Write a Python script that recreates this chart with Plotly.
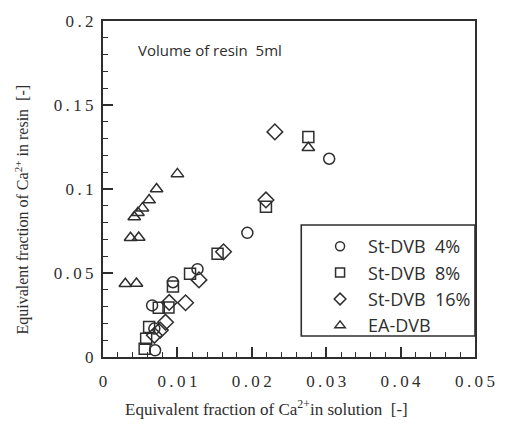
import plotly.graph_objects as go

# ---- data ----
st4_x = [0.0304, 0.0194, 0.0127, 0.0094, 0.0066, 0.0069, 0.0070]
st4_y = [0.118, 0.0739, 0.0523, 0.0445, 0.0307, 0.0169, 0.0040]

st8_x = [0.0276, 0.0219, 0.0154, 0.0117, 0.0094, 0.0075, 0.0088, 0.0062, 0.0058, 0.0056, 0.0054]
st8_y = [0.131, 0.0894, 0.0615, 0.0496, 0.0420, 0.0293, 0.0294, 0.0178, 0.0108, 0.0049, -0.0015]

st16_x = [0.0231, 0.0219, 0.0162, 0.0129, 0.0111, 0.0089, 0.0084, 0.0077, 0.0069, 0.0072]
st16_y = [0.134, 0.0935, 0.0626, 0.0459, 0.0323, 0.0325, 0.0207, 0.0160, 0.0129, -0.0005]

ea_x = [0.0276, 0.0100, 0.0072, 0.0062, 0.0053, 0.0047, 0.0042, 0.0037, 0.0048, 0.0030, 0.0045, 0.0038]
ea_y = [0.1246, 0.109, 0.100, 0.0934, 0.0886, 0.0859, 0.0833, 0.071, 0.0711, 0.0436, 0.0437, -0.0009]

series_names = ["St-DVB\u00a0\u00a04%", "St-DVB\u00a0\u00a08%", "St-DVB\u00a0\u00a016%", "EA-DVB"]
symbols = ["circle-open", "square-open", "diamond-open", "triangle-up-open"]
marker_sizes = [11, 11, 12, 11]

x_tickvals = [0, 0.01, 0.02, 0.03, 0.04, 0.05]
x_ticklabels = ["0", "0.01", "0.02", "0.03", "0.04", "0.05"]
y_tickvals = [0, 0.05, 0.1, 0.15, 0.2]
y_ticklabels = ["0", "0.05", "0.1", "0.15", "0.2"]

THIN = "\u2009"


def spaced(s):
    return THIN.join(list(s))


INK = "#2e2e2e"
SERIF = "Liberation Serif"
SANS = "Open Sans"

fig = go.Figure()
all_x = [st4_x, st8_x, st16_x, ea_x]
all_y = [st4_y, st8_y, st16_y, ea_y]

for xs, ys, sym, sz in zip(all_x, all_y, symbols, marker_sizes):
    fig.add_trace(go.Scatter(
        x=xs, y=ys, mode="markers", showlegend=False, cliponaxis=False,
        marker=dict(symbol=sym, size=sz, color=INK, line=dict(color=INK, width=1.5)),
    ))

# legend-only traces (smaller markers, as in the reference legend)
for name, sym in zip(series_names, symbols):
    fig.add_trace(go.Scatter(
        x=[None], y=[None], mode="markers", name=name,
        marker=dict(symbol=sym, size=9, color=INK, line=dict(color=INK, width=1.5)),
    ))

L, R, T, B = 103, 25, 21, 69
W, H = 507, 426
pw, ph = W - L - R, H - T - B


def px_to_paper(px, py):
    return (px - L) / pw, (H - B - py) / ph


# legend box
bx0, by0 = px_to_paper(305, 336)
bx1, by1 = px_to_paper(482, 225)
fig.add_shape(type="rect", xref="paper", yref="paper", x0=bx0, y0=by0, x1=1.0, y1=by1,
              line=dict(color=INK, width=1.6), fillcolor="white", layer="below")

lx, ly = px_to_paper(316, 228)
fig.update_layout(
    width=W, height=H,
    margin=dict(l=L, r=R, t=T, b=B),
    paper_bgcolor="white", plot_bgcolor="white",
    showlegend=True,
    legend=dict(x=lx, y=ly, xanchor="left", yanchor="top",
                bgcolor="rgba(0,0,0,0)", borderwidth=0,
                font=dict(family=SANS, size=18, color=INK),
                tracegroupgap=0, itemwidth=46),
    xaxis=dict(range=[0, 0.05], showgrid=False, zeroline=False,
               showline=True, linecolor=INK, linewidth=2, mirror=True,
               ticks="inside", ticklen=10, tickwidth=1.5, tickcolor=INK,
               tickvals=x_tickvals, ticktext=[spaced(t) for t in x_ticklabels],
               tickfont=dict(family=SERIF, size=17, color=INK),
               ticklabelstandoff=8,
               minor=dict(dtick=0.002, ticks="inside", ticklen=5, tickwidth=1.2, tickcolor=INK, showgrid=False)),
    yaxis=dict(range=[0, 0.2], showgrid=False, zeroline=False,
               showline=True, linecolor=INK, linewidth=2, mirror=True,
               ticks="inside", ticklen=10, tickwidth=1.5, tickcolor=INK,
               tickvals=y_tickvals, ticktext=[spaced(t) for t in y_ticklabels],
               tickfont=dict(family=SERIF, size=17, color=INK),
               ticklabelstandoff=4,
               minor=dict(dtick=0.01, ticks="inside", ticklen=5, tickwidth=1.2, tickcolor=INK, showgrid=False)),
)

ax, ay = px_to_paper(270, 408)
fig.add_annotation(xref="paper", yref="paper", x=ax, y=ay, showarrow=False,
                   text="Equivalent fraction of Ca<sup>2+</sup>in solution\u00a0\u00a0[-]",
                   font=dict(family=SERIF, size=17, color=INK), xanchor="center", yanchor="middle")

tx, ty = px_to_paper(20, 210)
fig.add_annotation(xref="paper", yref="paper", x=tx, y=ty, showarrow=False, textangle=-90,
                   text="Equivalent fraction of Ca<sup>2+</sup> in resin\u00a0\u00a0[-]",
                   font=dict(family=SERIF, size=16, color=INK), xanchor="center", yanchor="middle")

vx, vy = px_to_paper(137, 50)
fig.add_annotation(xref="paper", yref="paper", x=vx, y=vy, showarrow=False,
                   text="Volume of resin\u00a0\u00a05ml",
                   font=dict(family=SANS, size=15, color=INK), xanchor="left", yanchor="middle")

fig.write_html("out.html")
